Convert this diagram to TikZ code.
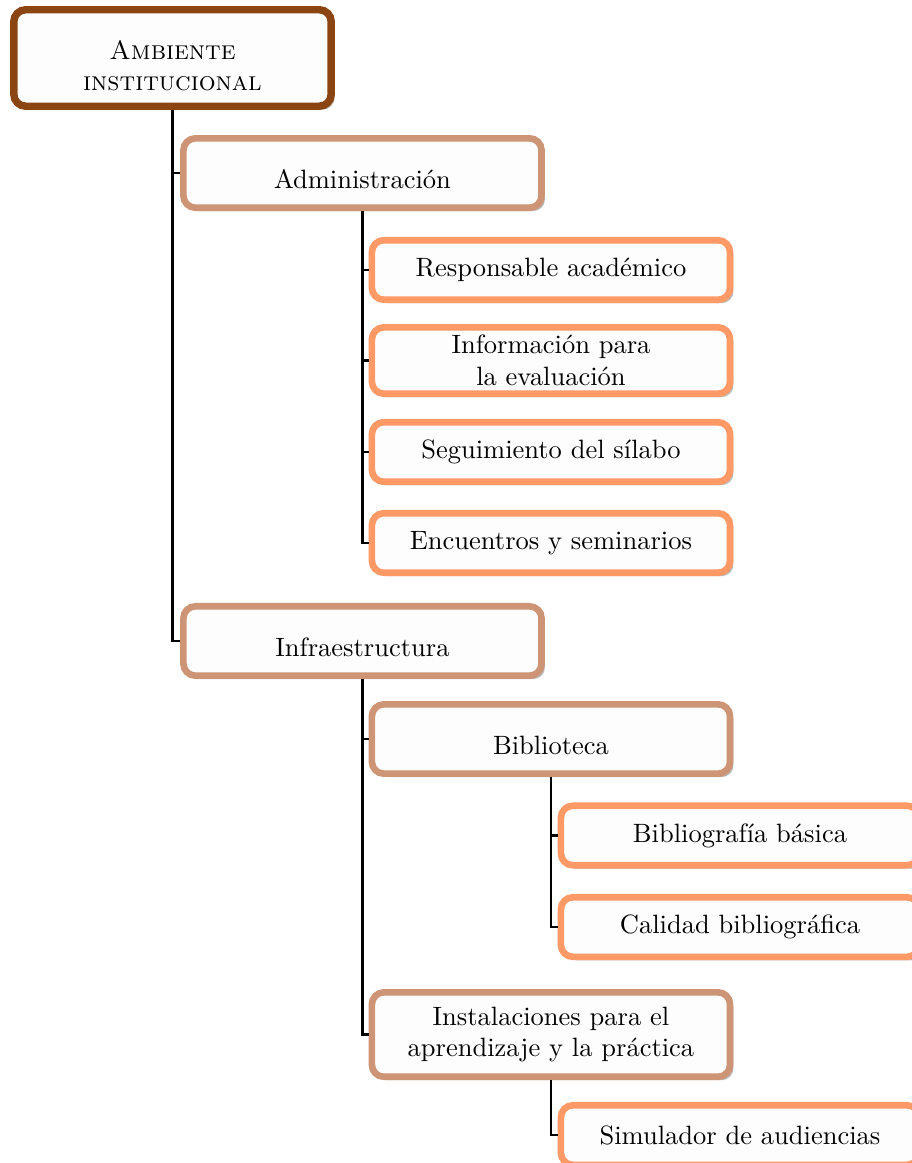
\documentclass[tikz,border=0pt]{standalone}
\usetikzlibrary{shadows}

\definecolor{rootbrown}{RGB}{139,69,19}
\definecolor{midtan}{RGB}{205,148,118}
\definecolor{leaforange}{RGB}{255,153,102}
\definecolor{boxfill}{RGB}{253,253,253}

\begin{document}
\begin{tikzpicture}[
  box/.style={draw, fill=boxfill, rounded corners=4.5pt, line width=2.5pt,
    align=center, inner sep=2pt,
    drop shadow={shadow xshift=1.3pt, shadow yshift=-1.3pt, fill=gray, opacity=0.55}},
  lowtext/.style={execute at begin node={\rule{0pt}{12pt}}},
  rootbox/.style={box, draw=rootbrown, line width=2.8pt, minimum width=4.21cm, minimum height=1.28cm},
  midbox/.style={box, draw=midtan, minimum width=4.75cm, minimum height=0.92cm},
  leafbox/.style={box, draw=leaforange, minimum width=4.75cm, minimum height=0.79cm},
  link/.style={draw=black, line width=0.8pt}
]
\useasboundingbox (0,0) rectangle (12.096,-15.426);

% root
\node[rootbox] (root) at (2.288,-0.769) {\rule{0pt}{13pt}\textsc{Ambiente}\\\textsc{institucional}};

% administracion
\node[midbox, lowtext] (adm) at (4.808,-2.295) {Administración};
\node[leafbox] (resp) at (7.308,-3.581) {Responsable académico};
\node[leafbox, minimum height=0.88cm] (info) at (7.308,-4.782) {Información para\\la evaluación};
\node[leafbox] (segu) at (7.308,-5.995) {Seguimiento del sílabo};
\node[leafbox] (encu) at (7.308,-7.202) {Encuentros y seminarios};

% infraestructura
\node[midbox, lowtext] (infra) at (4.808,-8.502) {Infraestructura};
\node[midbox, lowtext] (bibl) at (7.308,-9.802) {Biblioteca};
\node[leafbox] (bbas) at (9.815,-11.082) {Bibliografía básica};
\node[leafbox] (cali) at (9.815,-12.296) {Calidad bibliográfica};
\node[midbox, minimum height=1.12cm] (inst) at (7.308,-13.722) {Instalaciones para el\\aprendizaje y la práctica};
\node[leafbox] (simu) at (9.815,-15.055) {Simulador de audiencias};

% connectors
\foreach \from/\to in {root/adm, root/infra, adm/resp, adm/info, adm/segu, adm/encu,
    infra/bibl, infra/inst, bibl/bbas, bibl/cali, inst/simu}
  \draw[link] (\from.south) |- (\to.west);
\end{tikzpicture}
\end{document}
